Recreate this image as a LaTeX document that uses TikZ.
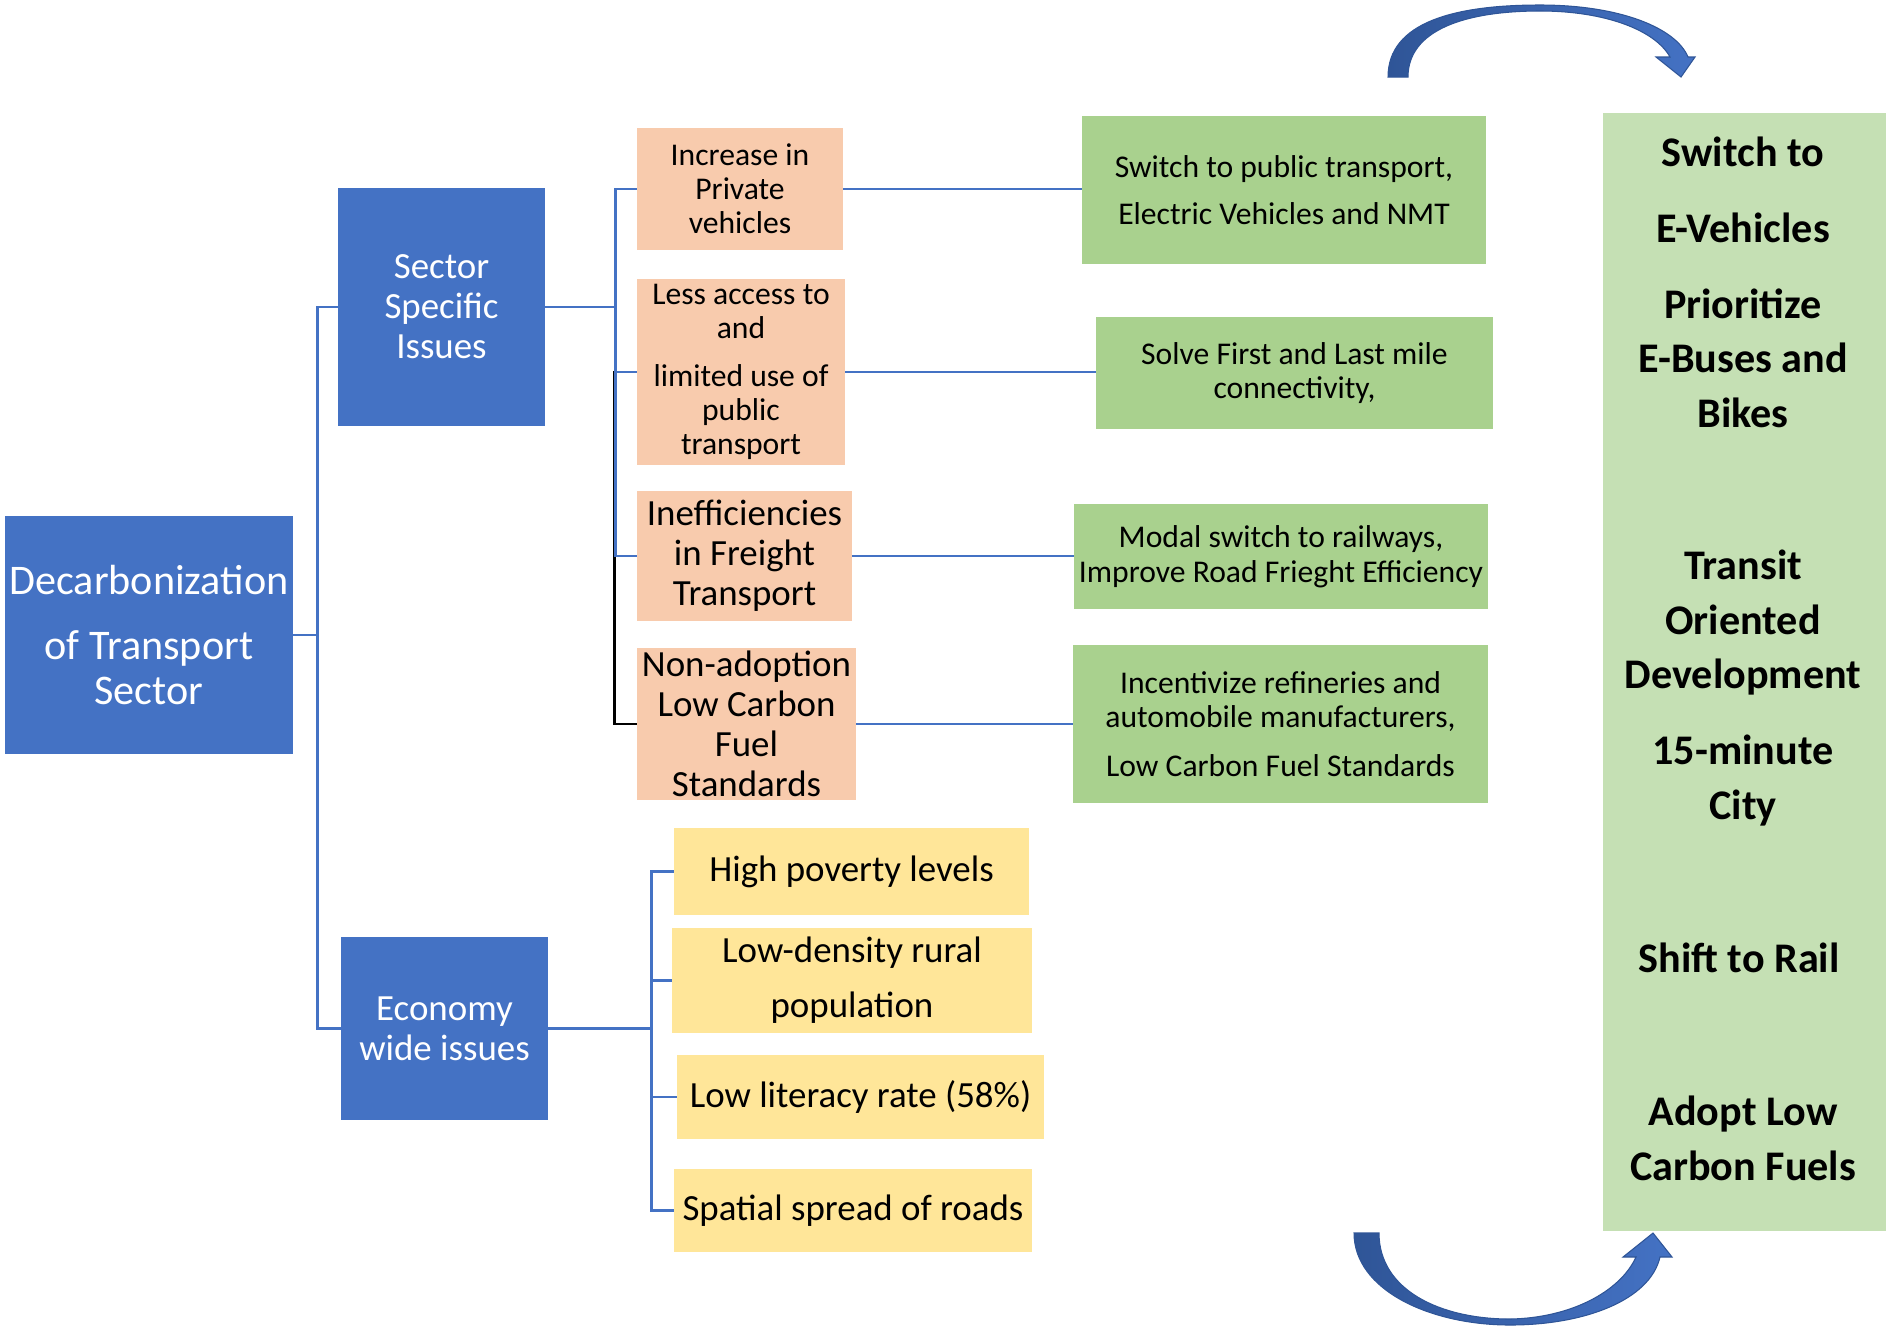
\documentclass[tikz,border=0pt]{standalone}
\usepackage{fontspec}
\setmainfont{Carlito}
\definecolor{bleu}{HTML}{4472C4}
\definecolor{bleufonce}{HTML}{2F5597}
\definecolor{saumon}{HTML}{F8CBAD}
\definecolor{vert}{HTML}{A9D18E}
\definecolor{vertclair}{HTML}{C5E0B4}
\definecolor{jaune}{HTML}{FFE699}
\begin{document}
\begin{tikzpicture}[x=0.02cm,y=-0.02cm,
	taille/.style 2 args={minimum width=#1*0.02cm,minimum height=#2*0.02cm},
	boite/.style={inner sep=0pt,align=center},
	bleue/.style={boite,fill=bleu,text=white,font=\fontsize{21}{22.7}\selectfont},
	pb/.style={boite,fill=saumon,font=\fontsize{18}{19.3}\selectfont},
	sol/.style={boite,fill=vert,font=\fontsize{18}{19.3}\selectfont},
	jbox/.style={boite,fill=jaune,font=\fontsize{21}{22.7}\selectfont},
	titre/.style={align=center,font=\bfseries\fontsize{24}{31.2}\selectfont},
	lien/.style={draw=bleu,line width=1.6pt}]
	\useasboundingbox (0,0) rectangle (1888,1326);
	% les boites bleues
	\node[bleue,taille={288}{238},font=\fontsize{24}{25.5}\selectfont] (dec) at (149,635) {Decarbonization\\[0.4cm]of Transport\\Sector};
	\node[bleue,taille={207}{238}] (sect) at (441.5,307) {Sector\\Specific\\Issues};
	\node[bleue,taille={207}{183}] (eco) at (444.5,1028.5) {Economy\\wide issues};
	% les problemes du secteur
	\node[pb,taille={206}{122}] (pv) at (740,189) {Increase in\\Private\\vehicles};
	\node[pb,taille={208}{186}] (pt) at (741,372) {Less access to\\and\\[0.28cm]limited use of\\public\\transport};
	\node[pb,taille={215}{130},font=\fontsize{21}{22.7}\selectfont] (fr) at (744.5,556) {Inefficiencies\\in Freight\\Transport};
	\node[pb,taille={219}{152},font=\fontsize{21}{22.7}\selectfont] (lcf) at (746.5,724) {Non-adoption\\Low Carbon\\Fuel\\Standards};
	% les solutions
	\node[sol,taille={404}{148},font=\fontsize{18}{26.7}\selectfont] (pub) at (1284,190) {Switch to public transport,\\Electric Vehicles and NMT};
	\node[sol,taille={397}{112}] (fml) at (1294.5,373) {Solve First and Last mile\\connectivity,};
	\node[sol,taille={414}{105},font=\fontsize{18}{19.8}\selectfont] (rail) at (1281,556.5) {Modal switch to railways,\\Improve Road Frieght Efficiency};
	\node[sol,taille={415}{158},font=\fontsize{18}{19.8}\selectfont] (inc) at (1280.5,724) {Incentivize refineries and\\automobile manufacturers,\\[0.28cm]Low Carbon Fuel Standards};
	% l'economie
	\node[jbox,taille={355}{87}] (pov) at (851.5,871.5) {High poverty levels};
	\node[jbox,taille={360}{105},font=\fontsize{21}{31.3}\selectfont] (dens) at (852,980.5) {Low-density rural\\population};
	\node[jbox,taille={367}{84}] (lit) at (860.5,1097) {Low literacy rate (58\%)};
	\node[jbox,taille={358}{83}] (road) at (853,1210.5) {Spatial spread of roads};
	% la colonne de droite
	\node[fill=vertclair,inner sep=0pt,taille={283}{1118}] (col) at (1744.5,672) {};
	\node[titre] (t1) at (1743,282.5) {Switch to\\[0.42cm]E-Vehicles\\[0.42cm]Prioritize\\E-Buses and\\Bikes};
	\node[titre] (t2) at (1743,688) {Transit\\Oriented\\Development\\[0.42cm]15-minute\\City};
	\node[titre] (t3) at (1739,958) {Shift to Rail};
	\node[titre] (t4) at (1743,1138) {Adopt Low\\Carbon Fuels};
	% les liens
	\draw[lien] (dec.east) -- ++(24,0) |- (sect.west);
	\draw[lien] (dec.east) -- ++(24,0) |- (eco.west);
	\draw[lien,draw=black] (pt.west) -- ++(-22,0) |- (lcf.west);
	\foreach \n in {pv,pt,fr} \draw[lien] (sect.east) -- ++(70,0) |- (\n.west);
	\foreach \n in {pov,dens,lit,road} \draw[lien] (eco.east) -- ++(103,0) |- (\n.west);
	\foreach \a/\b in {pv/pub,pt/fml,fr/rail,lcf/inc} \draw[lien] (\a.east) -- (\a.east -| \b.west);
	% les fleches courbes
	\shade[left color=bleufonce,right color=bleu,draw=bleufonce,line width=0.6pt]
		(1388,77) .. controls (1388,22) and (1455,5) .. (1540,5)
		.. controls (1620,5) and (1676,28) .. (1688,57)
		-- (1695,57) -- (1681,77) -- (1656,57) -- (1670,57)
		.. controls (1655,30) and (1605,11) .. (1540,11)
		.. controls (1465,11) and (1408,30) .. (1408,77) -- cycle;
	\shade[left color=bleufonce,right color=bleu,draw=bleufonce,line width=0.6pt]
		(1354,1233) .. controls (1354,1290) and (1430,1325) .. (1510,1325)
		.. controls (1585,1325) and (1650,1300) .. (1660,1257)
		-- (1672,1257) -- (1653,1233) -- (1623,1257) -- (1636,1257)
		.. controls (1620,1292) and (1570,1318) .. (1510,1319)
		.. controls (1440,1319) and (1379,1290) .. (1379,1233) -- cycle;
\end{tikzpicture}
\end{document}
